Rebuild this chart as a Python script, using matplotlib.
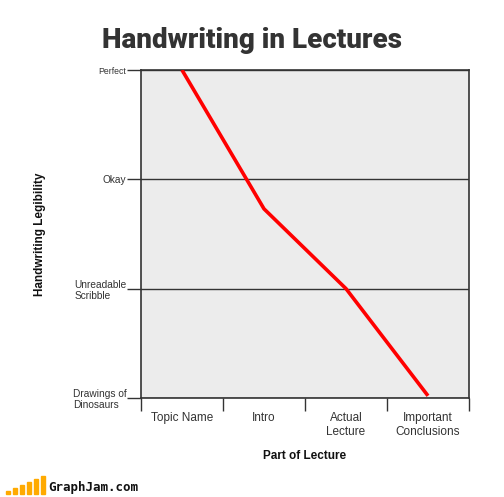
import numpy as np
import matplotlib
matplotlib.use("Agg")
import matplotlib.pyplot as plt
from matplotlib.patches import Rectangle

# data
parts = ["Topic Name", "Intro", "Actual\nLecture", "Important\nConclusions"]
legibility = [3.0, 1.73, 1.0, 0.02]
levels = [0, 1, 2, 3]
level_labels = ["Drawings of\nDinosaurs", "Unreadable\nScribble", "Okay", "Perfect"]
level_sizes = [7.3, 7.3, 7.3, 6.2]

plt.rcParams['font.family'] = ['Liberation Sans', 'DejaVu Sans']

fig = plt.figure(figsize=(5.04, 4.97), dpi=100)
ax = fig.add_axes([141/504, 1 - 398/497, 328/504, 328/497])
ax.set_facecolor('#ececec')

x = np.arange(len(parts))
ax.plot(x, legibility, color='#ff0000', lw=2.6, solid_capstyle='butt', zorder=3)

ax.set_xlim(-0.5, len(parts) - 0.5)
ax.set_ylim(0, 3)

# boundaries as major ticks, names centered as minor ticks
ax.set_xticks(np.arange(-0.5, len(parts), 1.0))
ax.set_xticklabels([])
ax.set_xticks(x, minor=True)
ax.set_xticklabels(parts, minor=True, fontsize=8.5, color='#333333', linespacing=1.2)
ax.tick_params(axis='x', which='major', length=9, width=1, color='#333333', direction='out')
ax.tick_params(axis='x', which='minor', length=0, pad=10)

ax.set_yticks(levels)
ax.set_yticklabels(level_labels, color='#333333', linespacing=1.15)
for lab, s in zip(ax.get_yticklabels(), level_sizes):
    lab.set_fontsize(s)
    lab.set_multialignment('left')
ax.tick_params(axis='y', length=10, width=1, color='#333333', direction='out', pad=0.5)

ax.grid(axis='y', color='#333333', lw=1)
ax.set_axisbelow(True)
for sp in ax.spines.values():
    sp.set_color('#333333')
    sp.set_linewidth(1.2)

ax.set_xlabel("Part of Lecture", fontsize=8.5, fontweight='bold', color='#111111', labelpad=9)
ax.set_ylabel("Handwriting Legibility", fontsize=8.5, fontweight='bold', color='#111111', labelpad=19)

fig.text(0.5, 1 - 40/497, "Handwriting in Lectures", ha='center', va='center',
         fontsize=20, fontweight='black', color='#333333',
         family=['Roboto', 'DejaVu Sans'])

# GraphJam logo
bar_h = [2, 4, 6, 8, 10, 12]
for i, h in enumerate(bar_h):
    fig.add_artist(Rectangle(((6 + i * 7) / 504, 3 / 497), 4 / 504, h * 1.5 / 497,
                             color='#ffaa00', transform=fig.transFigure))
fig.text(48 / 504, 9 / 497, "GraphJam.com", fontsize=9, fontweight='bold',
         family=['DejaVu Sans Mono', 'DejaVu Sans'], va='center', color='#111111')

fig.savefig("out.png", dpi=100)
